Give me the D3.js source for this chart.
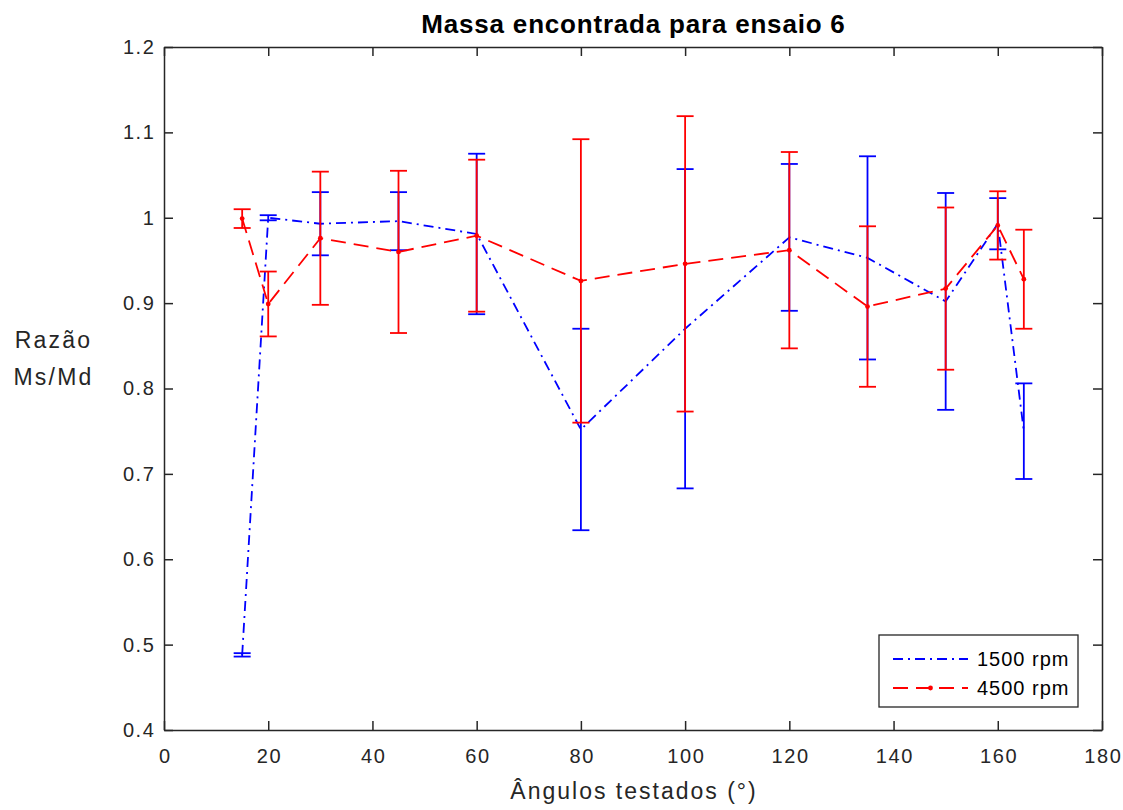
<!DOCTYPE html>
<html>
<head>
<meta charset="utf-8">
<script src="https://cdn.jsdelivr.net/npm/d3@7"></script>
<style>
	body { margin: 0; background: #fff; }
	text { font-family: "Liberation Sans", Arial, Helvetica, sans-serif; }
</style>
</head>
<body>
<div id="chart"></div>
<script>
// Valores
const angulos = [15, 20, 30, 45, 60, 80, 100, 120, 135, 150, 160, 165];

const media1500 = [0.488, 1.000, 0.993, 0.996, 0.981, 0.752, 0.870, 0.977, 0.953, 0.902, 0.993, 0.750];
const erro1500  = [0.002, 0.003, 0.037, 0.034, 0.094, 0.118, 0.187, 0.086, 0.119, 0.127, 0.030, 0.056];

const media4500 = [0.999, 0.899, 0.976, 0.960, 0.979, 0.926, 0.946, 0.962, 0.896, 0.917, 0.991, 0.928];
const erro4500  = [0.011, 0.038, 0.078, 0.095, 0.089, 0.166, 0.173, 0.115, 0.094, 0.095, 0.040, 0.058];

const xTicks = [0, 20, 40, 60, 80, 100, 120, 140, 160, 180];
const yTicks = [0.4, 0.5, 0.6, 0.7, 0.8, 0.9, 1.0, 1.1, 1.2];

const width = 1123, height = 810;
const margin = {left: 164, right: 21, top: 47, bottom: 80};

const svg = d3.select("#chart")
	.append("svg")
	.attr("width", width)
	.attr("height", height);

const x = d3.scaleLinear().domain([0, 180]).range([margin.left, width - margin.right]);
const y = d3.scaleLinear().domain([0.4, 1.2]).range([height - margin.bottom, margin.top]);

const axisColor = "#262626";
const tickLen = 9;

// eixos (caixa completa, ticks para dentro)
const fmt = function(d){ return d3.format("")(+d.toFixed(1)); };

const gx = svg.append("g").attr("transform", "translate(0," + y(0.4) + ")")
	.call(d3.axisBottom(x).tickValues(xTicks).tickSize(-tickLen).tickPadding(19).tickSizeOuter(0));
const gxTop = svg.append("g").attr("transform", "translate(0," + y(1.2) + ")")
	.call(d3.axisTop(x).tickValues(xTicks).tickSize(-tickLen).tickFormat("").tickSizeOuter(0));
const gy = svg.append("g").attr("transform", "translate(" + x(0) + ",0)")
	.call(d3.axisLeft(y).tickValues(yTicks).tickSize(-tickLen).tickPadding(8.5).tickFormat(fmt).tickSizeOuter(0));
const gyRight = svg.append("g").attr("transform", "translate(" + x(180) + ",0)")
	.call(d3.axisRight(y).tickValues(yTicks).tickSize(-tickLen).tickFormat("").tickSizeOuter(0));

[gx, gxTop, gy, gyRight].forEach(function(g){
	g.select(".domain").attr("stroke", axisColor).attr("stroke-width", 1.5);
	g.selectAll(".tick line").attr("stroke", axisColor).attr("stroke-width", 1.5);
	g.selectAll(".tick text").attr("fill", axisColor)
		.style("font-size", "20px").style("letter-spacing", "1.6px");
});
gx.selectAll(".tick text").attr("dx", "0.8px");

// séries
const series = [
	{nome: "1500 rpm", media: media1500, erro: erro1500, cor: "#0000ff", dash: "10,5,2,5", ponto: false},
	{nome: "4500 rpm", media: media4500, erro: erro4500, cor: "#ff0000", dash: "15,8", ponto: true}
];

const capW = 8.5;
const linha = d3.line().x(function(d){ return x(d[0]); }).y(function(d){ return y(d[1]); });

series.forEach(function(s){
	const pts = angulos.map(function(a, i){ return [a, s.media[i], s.erro[i]]; });
	const g = svg.append("g");

	// barras de erro
	const bars = g.selectAll("g.eb").data(pts).enter().append("g").attr("class", "eb");
	bars.append("line")
		.attr("x1", function(d){ return x(d[0]); })
		.attr("x2", function(d){ return x(d[0]); })
		.attr("y1", function(d){ return y(d[1] - d[2]); })
		.attr("y2", function(d){ return y(d[1] + d[2]); });
	bars.append("line")
		.attr("x1", function(d){ return x(d[0]) - capW; })
		.attr("x2", function(d){ return x(d[0]) + capW; })
		.attr("y1", function(d){ return y(d[1] - d[2]); })
		.attr("y2", function(d){ return y(d[1] - d[2]); });
	bars.append("line")
		.attr("x1", function(d){ return x(d[0]) - capW; })
		.attr("x2", function(d){ return x(d[0]) + capW; })
		.attr("y1", function(d){ return y(d[1] + d[2]); })
		.attr("y2", function(d){ return y(d[1] + d[2]); });
	bars.selectAll("line").attr("stroke", s.cor).attr("stroke-width", 1.8);

	g.append("path")
		.datum(pts)
		.attr("d", linha)
		.attr("fill", "none")
		.attr("stroke", s.cor)
		.attr("stroke-width", 1.8)
		.attr("stroke-dasharray", s.dash);

	if (s.ponto) {
		g.selectAll("circle").data(pts).enter().append("circle")
			.attr("cx", function(d){ return x(d[0]); })
			.attr("cy", function(d){ return y(d[1]); })
			.attr("r", 2.4)
			.attr("fill", s.cor);
	}
});

// título e rótulos
svg.append("text")
	.attr("x", (x(0) + x(180)) / 2 + 0.5).attr("y", 33)
	.attr("text-anchor", "middle")
	.style("font-size", "26px").style("font-weight", "bold")
	.style("letter-spacing", "0.8px")
	.attr("fill", "#000")
	.text("Massa encontrada para ensaio 6");

svg.append("text")
	.attr("x", (x(0) + x(180)) / 2 + 1).attr("y", 799)
	.attr("text-anchor", "middle")
	.style("font-size", "23px").style("letter-spacing", "2px")
	.attr("fill", axisColor)
	.text("Ângulos testados (°)");

const ylab = svg.append("text")
	.attr("text-anchor", "middle")
	.style("font-size", "23px").style("letter-spacing", "2.2px")
	.attr("fill", axisColor);
ylab.append("tspan").attr("x", 53.5).attr("y", 348).text("Razão");
ylab.append("tspan").attr("x", 53.5).attr("y", 385).text("Ms/Md");

// legenda
const leg = svg.append("g").attr("transform", "translate(879,635)");
leg.append("rect")
	.attr("width", 199).attr("height", 72)
	.attr("fill", "#fff")
	.attr("stroke", axisColor).attr("stroke-width", 1.3);

series.forEach(function(s, i){
	const ly = 24 + i * 29;
	leg.append("line")
		.attr("x1", 14).attr("x2", 89)
		.attr("y1", ly).attr("y2", ly)
		.attr("stroke", s.cor).attr("stroke-width", 1.8)
		.attr("stroke-dasharray", s.dash);
	if (s.ponto) {
		leg.append("circle").attr("cx", 51.5).attr("cy", ly).attr("r", 2.4).attr("fill", s.cor);
	}
	leg.append("text")
		.attr("x", 98).attr("y", ly + 7)
		.style("font-size", "20px").style("letter-spacing", "1px")
		.attr("fill", "#000")
		.text(s.nome);
});
</script>
</body>
</html>
